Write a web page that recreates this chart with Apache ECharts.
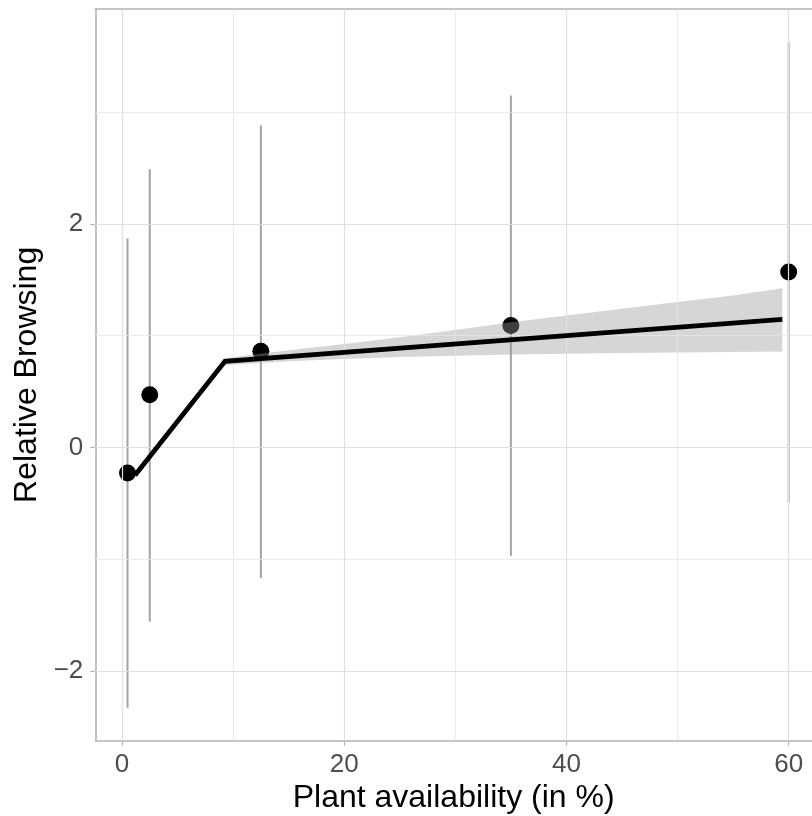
<!DOCTYPE html>
<html>
<head>
<meta charset="utf-8">
<script src="https://cdn.jsdelivr.net/npm/echarts@6/dist/echarts.min.js"></script>
<style>
html,body{margin:0;padding:0;background:#fff;}
#chart{width:812px;height:816px;}
</style>
</head>
<body>
<div id="chart"></div>
<script>
// Observations
const xVals = [0.5, 2.5, 12.5, 35, 60];
const yVals = [-0.23, 0.47, 0.86, 1.09, 1.57];
const errLow = [-2.33, -1.56, -1.17, -0.97, -0.49];
const errHigh = [1.87, 2.49, 2.88, 3.15, 3.625];
// Fitted segmented line
const fitX = [1.17, 9.27, 59.43];
const fitY = [-0.25, 0.77, 1.146];
// Confidence band
const bandX = [9.27, 15, 20, 25, 30, 35, 40, 45, 50, 55, 59.43];
const bandUpper = [0.80, 0.87, 0.925, 0.985, 1.05, 1.12, 1.18, 1.24, 1.30, 1.36, 1.423];
const bandLower = [0.735, 0.77, 0.79, 0.808, 0.82, 0.83, 0.838, 0.845, 0.85, 0.854, 0.857];
// Ticks
const xMajor = [0, 20, 40, 60];
const xMinor = [10, 30, 50];
const yMajor = [-2, 0, 2];
const yMinor = [-1, 1, 3];

const FONT = 'Liberation Sans, Arial, sans-serif';
const chart = echarts.init(document.getElementById('chart'), null, {renderer: 'canvas'});

const gridLines = [];
xMinor.forEach(v => gridLines.push({xAxis: v, lineStyle: {color: '#e6e6e6', width: 0.8, type: 'solid'}}));
yMinor.forEach(v => gridLines.push({yAxis: v, lineStyle: {color: '#e6e6e6', width: 0.8, type: 'solid'}}));
xMajor.forEach(v => gridLines.push({xAxis: v, lineStyle: {color: '#e0e0e0', width: 1.2, type: 'solid'}}));
yMajor.forEach(v => gridLines.push({yAxis: v, lineStyle: {color: '#e0e0e0', width: 1.2, type: 'solid'}}));

const borderLine = {show: true, onZero: false, lineStyle: {color: '#b3b3b3', width: 1.6}};

const option = {
  animation: false,
  backgroundColor: '#ffffff',
  grid: {left: 95.3, top: 9, right: 0, height: 731.7, show: false,
    containLabel: false, outerBoundsMode: 'none'},
  xAxis: [{
    type: 'value', min: -2.4, max: 62.1, position: 'bottom',
    name: 'Plant availability (in %)', nameLocation: 'middle', nameGap: 40,
    nameTextStyle: {fontFamily: FONT, fontSize: 32, color: '#000000'},
    axisLine: borderLine,
    axisTick: {show: true, customValues: xMajor, length: 5, lineStyle: {color: '#b3b3b3', width: 1.2}},
    axisLabel: {customValues: xMajor, fontFamily: FONT, fontSize: 26, color: '#4d4d4d', margin: 11},
    splitLine: {show: false}
  }, {
    type: 'value', min: -2.4, max: 62.1, position: 'top',
    axisLine: borderLine, axisTick: {show: false}, axisLabel: {show: false}, splitLine: {show: false}
  }],
  yAxis: {
    type: 'value', min: -2.625, max: 3.923, position: 'left',
    name: 'Relative Browsing', nameLocation: 'middle', nameGap: 48,
    nameTextStyle: {fontFamily: FONT, fontSize: 32, color: '#000000'},
    axisLine: borderLine,
    axisTick: {show: true, customValues: yMajor, length: 5, lineStyle: {color: '#b3b3b3', width: 1.2}},
    axisLabel: {customValues: yMajor, fontFamily: FONT, fontSize: 26, color: '#4d4d4d', margin: 12,
      formatter: v => String(v).replace('-', '\u2212')},
    splitLine: {show: false}
  },
  series: [
    {
      type: 'line', data: [], silent: true, z: 1,
      markLine: {silent: true, symbol: 'none', label: {show: false}, animation: false, data: gridLines}
    },
    {
      type: 'custom', z: 2, silent: true,
      data: xVals.map((x, i) => [x, errLow[i], errHigh[i]]),
      encode: {x: 0, y: [1, 2]},
      renderItem: function (params, api) {
        const a = api.coord([api.value(0), api.value(1)]);
        const b = api.coord([api.value(0), api.value(2)]);
        return {type: 'line', shape: {x1: a[0], y1: a[1], x2: b[0], y2: b[1]},
          style: {stroke: '#a3a3a3', lineWidth: 2}};
      }
    },
    {
      type: 'scatter', z: 3, silent: true,
      data: xVals.map((x, i) => [x, yVals[i]]),
      symbol: 'circle', symbolSize: 17,
      itemStyle: {color: '#000000', opacity: 1}
    },
    {
      type: 'custom', z: 4, silent: true,
      data: bandX.map((x, i) => [x, bandLower[i], bandUpper[i]]),
      encode: {x: 0, y: [1, 2]},
      renderItem: function (params, api) {
        if (params.dataIndex !== 0) return null;
        const pts = [];
        for (let i = 0; i < bandX.length; i++) pts.push(api.coord([bandX[i], bandUpper[i]]));
        for (let i = bandX.length - 1; i >= 0; i--) pts.push(api.coord([bandX[i], bandLower[i]]));
        return {type: 'polygon', shape: {points: pts}, style: {fill: 'rgba(153,153,153,0.4)'}};
      }
    },
    {
      type: 'line', z: 5, silent: true,
      data: fitX.map((x, i) => [x, fitY[i]]),
      symbol: 'none',
      lineStyle: {color: '#000000', width: 4.8, join: 'miter'}
    }
  ]
};
chart.setOption(option);
</script>
</body>
</html>
